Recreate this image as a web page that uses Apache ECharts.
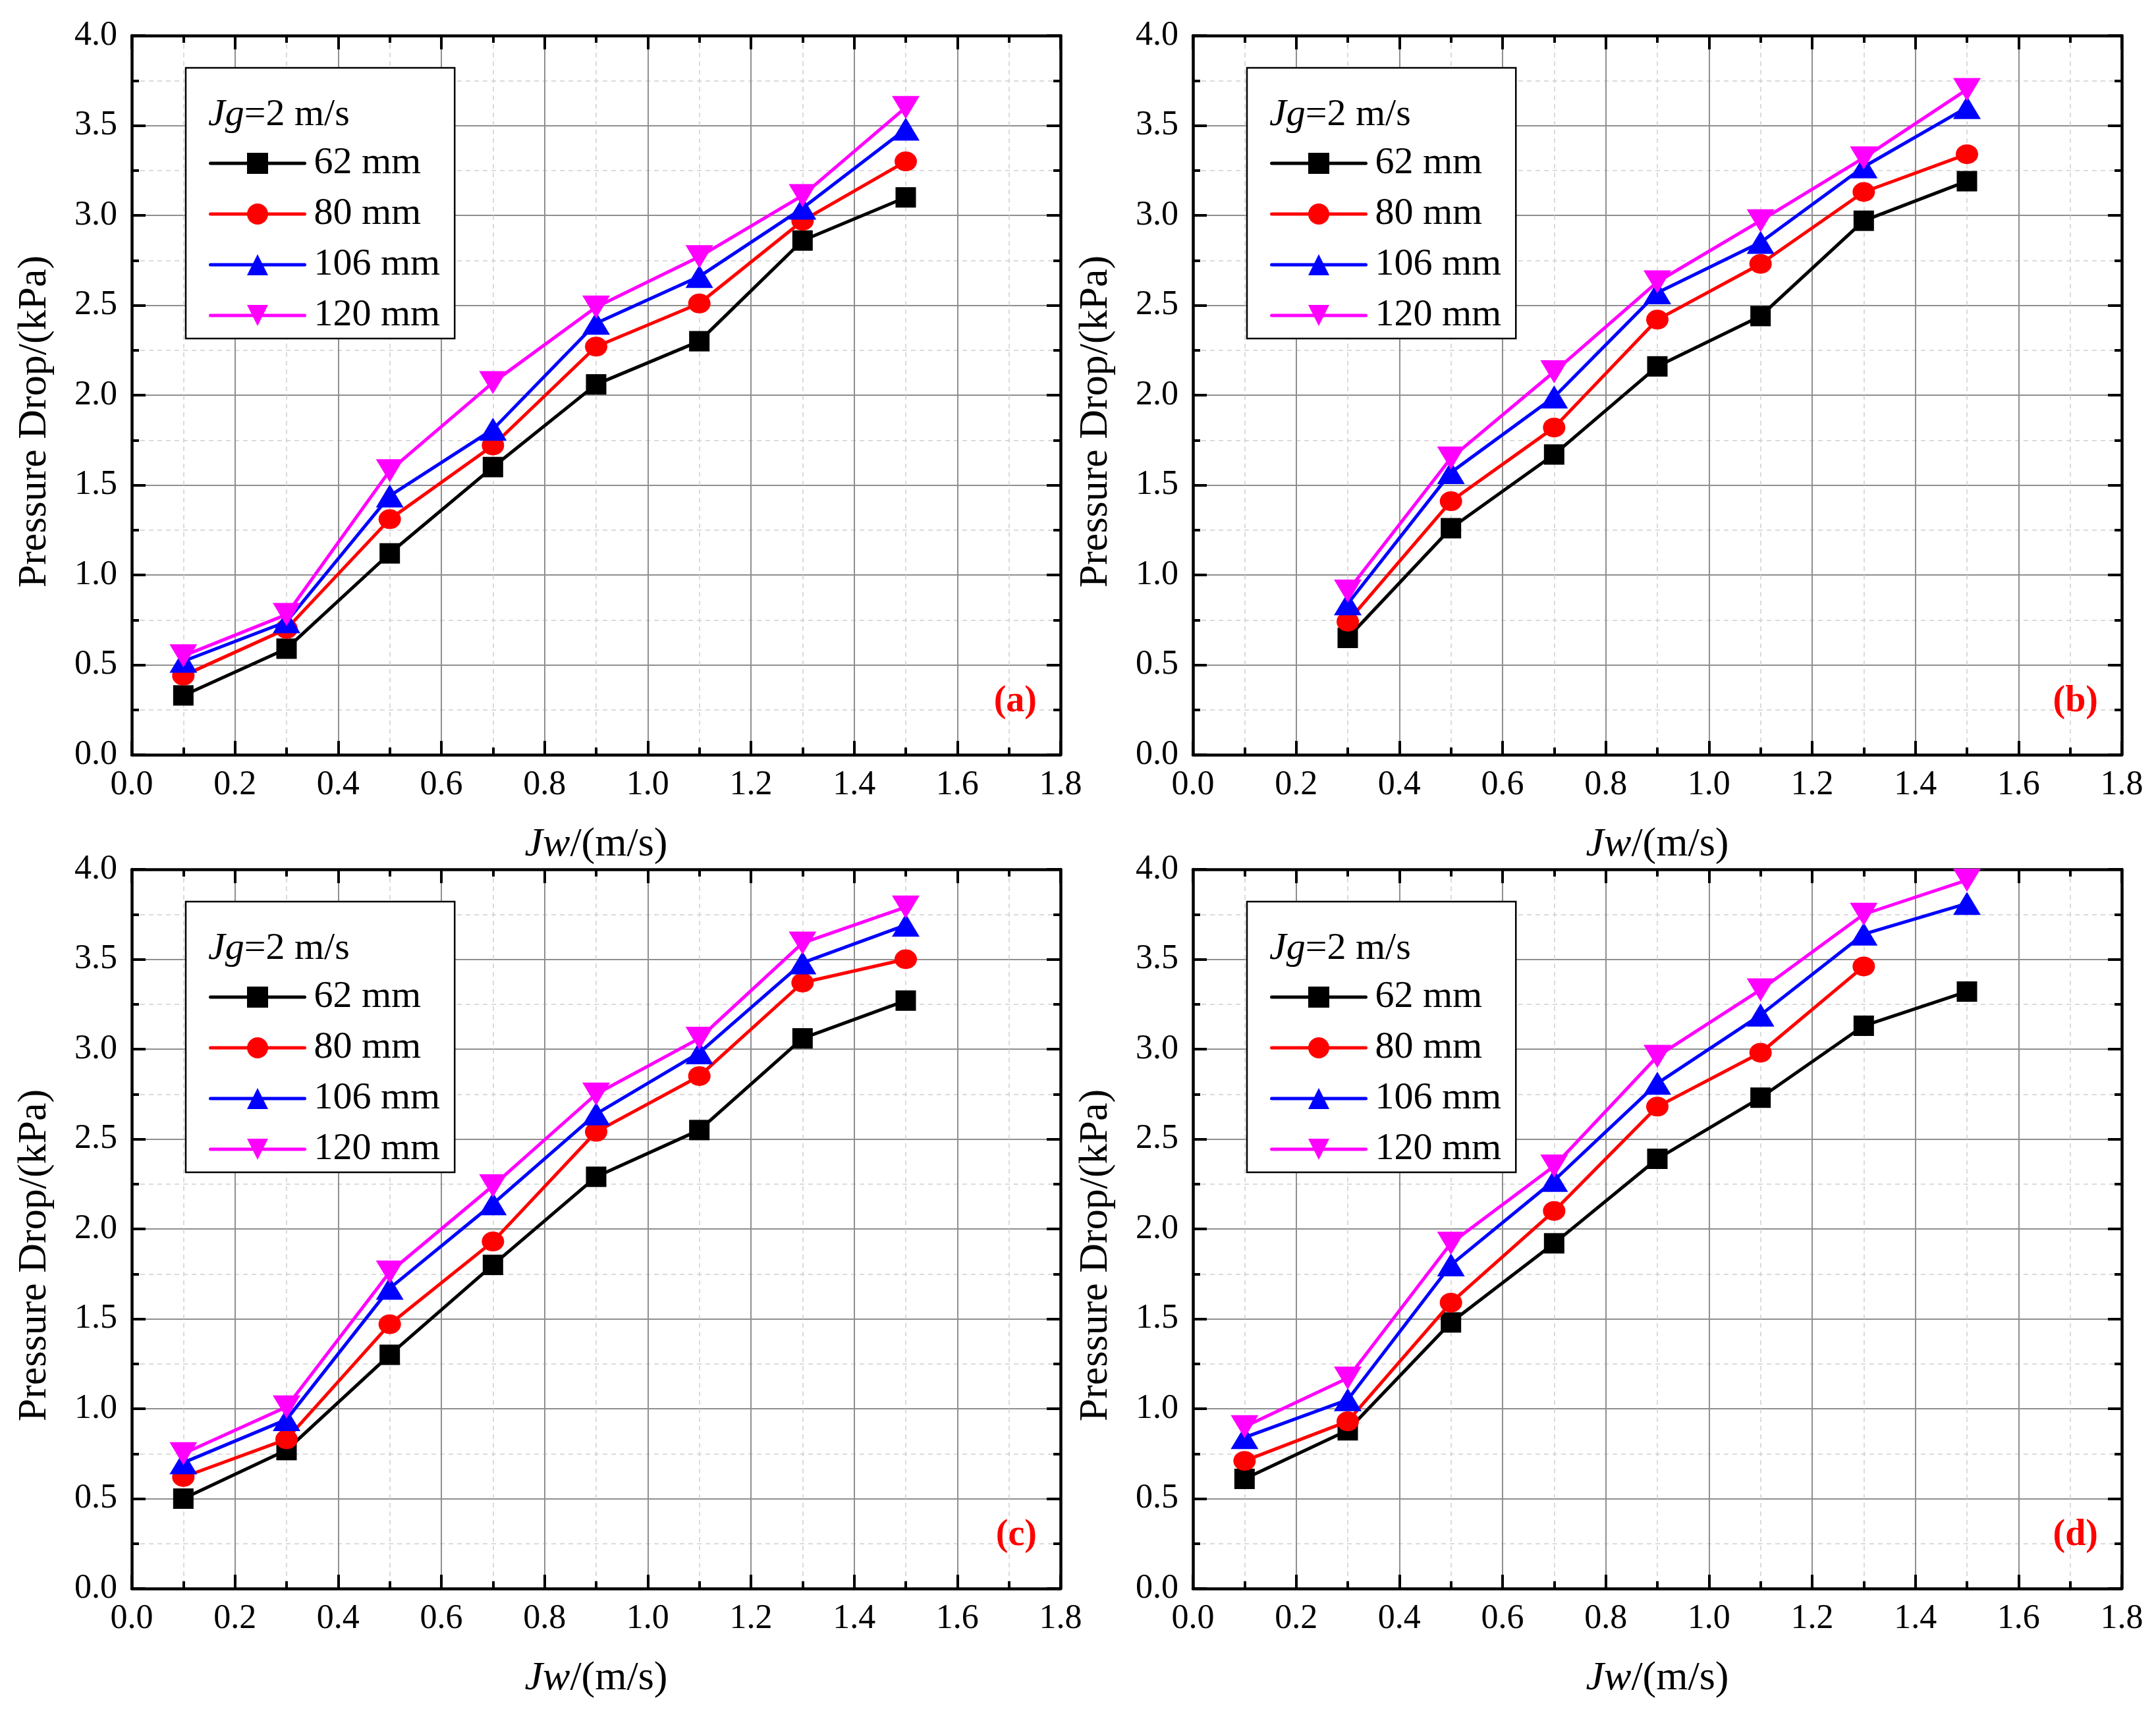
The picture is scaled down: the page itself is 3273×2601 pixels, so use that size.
<!DOCTYPE html>
<html>
<head>
<meta charset="utf-8">
<script src="https://cdn.jsdelivr.net/npm/echarts@6/dist/echarts.min.js"></script>
<style>
  html, body { margin: 0; padding: 0; background: #fff; }
  #chart { width: 3273px; height: 2601px; }
</style>
</head>
<body>
<div id="chart"></div>
<script>
// x values (Jw, m/s)
const jw = [0.1, 0.3, 0.5, 0.7, 0.9, 1.1, 1.3, 1.5];
const jwB = [0.3, 0.5, 0.7, 0.9, 1.1, 1.3, 1.5];

const diameters = ['62 mm', '80 mm', '106 mm', '120 mm'];
const lineColors = ['#000000', '#ff0000', '#0000ff', '#ff00ff'];
const panelTags = ['(a)', '(b)', '(c)', '(d)'];

// pressure drop, kPa
const a62  = [0.33, 0.59, 1.12, 1.60, 2.06, 2.30, 2.86, 3.10];
const a80  = [0.44, 0.70, 1.31, 1.72, 2.27, 2.51, 2.97, 3.30];
const a106 = [0.52, 0.74, 1.44, 1.81, 2.40, 2.66, 3.04, 3.48];
const a120 = [0.55, 0.78, 1.58, 2.07, 2.49, 2.77, 3.11, 3.60];

const b62  = [0.65, 1.26, 1.67, 2.16, 2.44, 2.97, 3.19];
const b80  = [0.74, 1.41, 1.82, 2.42, 2.73, 3.13, 3.34];
const b106 = [0.84, 1.57, 1.99, 2.57, 2.85, 3.27, 3.60];
const b120 = [0.91, 1.65, 2.13, 2.63, 2.97, 3.32, 3.70];

const c62  = [0.50, 0.77, 1.30, 1.80, 2.29, 2.55, 3.06, 3.27];
const c80  = [0.62, 0.83, 1.47, 1.93, 2.54, 2.85, 3.37, 3.50];
const c106 = [0.70, 0.94, 1.67, 2.14, 2.64, 2.98, 3.48, 3.69];
const c120 = [0.75, 1.01, 1.76, 2.24, 2.75, 3.06, 3.59, 3.79];

const d62  = [0.61, 0.88, 1.48, 1.92, 2.39, 2.73, 3.13, 3.32];
const d80  = [0.71, 0.93, 1.59, 2.10, 2.68, 2.98, 3.46];
const d106 = [0.84, 1.05, 1.80, 2.27, 2.81, 3.19, 3.64, 3.81];
const d120 = [0.90, 1.17, 1.92, 2.35, 2.96, 3.33, 3.75, 3.94];

const panelX = [jw, jwB, jw, jw];
const panelY = [
  [a62, a80, a106, a120],
  [b62, b80, b106, b120],
  [c62, c80, c106, c120],
  [d62, d80, d106, d120]
];

const FONT = 'Liberation Serif';
const W = 3273;
const gridPos = [[200, 54], [1811, 54], [200, 1320], [1811, 1320]];
const GW = 1410, GH = 1092;

const symbols = ['rect', 'circle', 'triangle', 'triangle'];
const symSizes = [[31, 31], [34, 30], [42, 35], [42, 35]];
const symRot = [0, 0, 0, 180];

const chart = echarts.init(document.getElementById('chart'));

const grids = [], xAxes = [], yAxes = [], series = [], legends = [], titles = [];

const tickStyle = { show: true, inside: true, length: 21, lineStyle: { color: '#000', width: 4 } };
const minorTickStyle = { show: true, splitNumber: 2, length: 11, lineStyle: { color: '#000', width: 4 } };
const axisLineStyle = { show: true, onZero: false, lineStyle: { color: '#000', width: 4.5 } };

gridPos.forEach(([gx, gy], p) => {
  grids.push({ left: gx, top: gy, width: GW, height: GH, containLabel: false });

  // bottom + top x axes
  xAxes.push({
    type: 'value', gridIndex: p, min: 0, max: 1.8, interval: 0.2, position: 'bottom',
    name: '{i|Jw}/(m/s)', nameLocation: 'middle', nameGap: 106,
    nameTextStyle: {
      fontSize: 62, fontFamily: FONT, color: '#000',
      rich: { i: { fontSize: 62, fontFamily: FONT, fontStyle: 'italic', color: '#000' } }
    },
    axisLine: axisLineStyle, axisTick: tickStyle, minorTick: minorTickStyle,
    axisLabel: { margin: 20, fontSize: 52, fontFamily: FONT, color: '#000', formatter: v => v.toFixed(1) },
    splitLine: { show: true, lineStyle: { color: '#8f8f8f', width: 2 } },
    minorSplitLine: { show: true, lineStyle: { color: '#cfcfcf', width: 1.5, type: [7, 6] } }
  });
  xAxes.push({
    type: 'value', gridIndex: p, min: 0, max: 1.8, interval: 0.2, position: 'top',
    axisLine: axisLineStyle, axisTick: tickStyle, minorTick: minorTickStyle,
    axisLabel: { show: false }, splitLine: { show: false }
  });

  // left + right y axes
  yAxes.push({
    type: 'value', gridIndex: p, min: 0, max: 4, interval: 0.5, position: 'left',
    name: 'Pressure Drop/(kPa)', nameLocation: 'middle', nameGap: 116,
    nameTextStyle: { fontSize: 62, fontFamily: FONT, color: '#000', padding: [0, 80, 0, 0] },
    axisLine: axisLineStyle, axisTick: tickStyle, minorTick: minorTickStyle,
    axisLabel: { margin: 22, fontSize: 52, fontFamily: FONT, color: '#000', formatter: v => v.toFixed(1) },
    splitLine: { show: true, lineStyle: { color: '#8f8f8f', width: 2 } },
    minorSplitLine: { show: true, lineStyle: { color: '#cfcfcf', width: 1.5, type: [7, 6] } }
  });
  yAxes.push({
    type: 'value', gridIndex: p, min: 0, max: 4, interval: 0.5, position: 'right',
    axisLine: axisLineStyle, axisTick: tickStyle, minorTick: minorTickStyle,
    axisLabel: { show: false }, splitLine: { show: false }
  });

  panelY[p].forEach((ys, k) => {
    series.push({
      name: diameters[k], type: 'line',
      xAxisIndex: 2 * p, yAxisIndex: 2 * p,
      data: ys.map((y, i) => [panelX[p][i], y]),
      symbol: symbols[k], symbolSize: symSizes[k], symbolRotate: symRot[k],
      showAllSymbol: true,
      lineStyle: { color: lineColors[k], width: 5 },
      itemStyle: { color: lineColors[k] },
      emphasis: { disabled: true },
      z: 3 + k
    });
  });

  legends.push({
    orient: 'vertical', left: gx + 82, top: gy + 49,
    data: diameters,
    itemWidth: 143, itemHeight: 40, itemGap: 19,
    padding: [116, 22, 6, 35],
    backgroundColor: '#fff', borderColor: '#000', borderWidth: 2.5,
    lineStyle: { width: 5, cap: 'round' },
    textStyle: { fontSize: 58, fontFamily: FONT, color: '#000', lineHeight: 40, padding: [0, 0, 0, 9] },
    selectedMode: false, z: 10
  });

  titles.push({
    text: '{i|Jg}{n|=2 m/s}', left: gx + 116, top: gy + 92, padding: 0, z: 11,
    textStyle: {
      fontSize: 58, fontFamily: FONT, color: '#000', fontWeight: 'normal',
      rich: {
        i: { fontSize: 58, fontFamily: FONT, fontStyle: 'italic', color: '#000' },
        n: { fontSize: 58, fontFamily: FONT, color: '#000' }
      }
    }
  });

  titles.push({
    text: panelTags[p], right: W - (gx + GW - 36), top: gy + GH - 108, padding: 0,
    textStyle: { fontSize: 56, fontFamily: FONT, color: '#ff0000', fontWeight: 'bold' }
  });
});

chart.setOption({
  backgroundColor: '#fff',
  animation: false,
  textStyle: { fontFamily: FONT },
  title: titles,
  legend: legends,
  grid: grids,
  xAxis: xAxes,
  yAxis: yAxes,
  series: series
});
</script>
</body>
</html>
